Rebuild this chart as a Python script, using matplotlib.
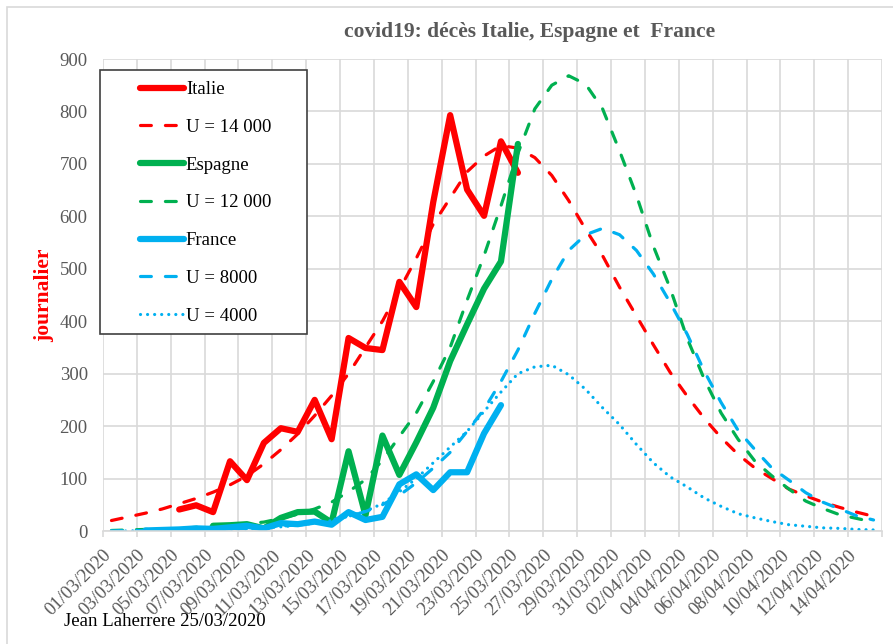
import numpy as np
import pandas as pd
import matplotlib
matplotlib.use('Agg')
import matplotlib.pyplot as plt
from matplotlib.patches import Rectangle
from matplotlib.transforms import ScaledTranslation

plt.rcParams['font.family'] = ['Liberation Serif', 'DejaVu Serif']

# categories: one per day, 01/03/2020 .. 15/04/2020
dates = pd.date_range('2020-03-01', '2020-04-15', freq='D')
date_labels = [d.strftime('%d/%m/%Y') for d in dates]

# observed daily deaths (first day index for each)
italie_start = 4
italie = [41, 49, 36, 133, 97, 168, 196, 189, 250, 175, 368, 349, 345, 475,
          427, 627, 793, 651, 601, 743, 683]
espagne_start = 6
espagne = [10, 11, 13, 5, 25, 36, 37, 16, 152, 30, 182, 107, 169, 235, 324,
           394, 462, 514, 738]
france_start = 2
france = [1, 2, 3, 5, 4, 7, 10, 5, 15, 13, 18, 12, 36, 21, 27, 89, 108, 78,
          112, 112, 186, 240]

# models, read day by day from 01/03
u14000 = [20, 27, 34, 42, 52, 62, 74, 88, 105, 128, 155, 185, 220, 258, 300,
          350, 400, 460, 520, 585, 635, 685, 715, 735, 730, 712, 678, 630,
          575, 525, 465, 410, 355, 302, 257, 215, 178, 146, 120, 100, 80, 67,
          55, 45, 36, 28]
u12000 = [1, 2, 3, 4, 5, 7, 9, 11, 14, 17, 24, 32, 42, 55, 75, 98, 135, 180,
          225, 285, 350, 440, 525, 620, 720, 805, 850, 868, 852, 805, 725,
          640, 543, 462, 367, 290, 225, 175, 133, 105, 80, 57, 43, 31, 24, 17]
u8000 = [0, 1, 1, 1, 2, 2, 3, 4, 5, 7, 9, 12, 16, 21, 28, 37, 50, 68, 92, 120,
         150, 190, 232, 285, 345, 415, 480, 535, 565, 577, 565, 535, 490,
         435, 375, 305, 245, 192, 155, 120, 97, 73, 55, 42, 29, 21]
u4000 = [0, 0, 1, 1, 1, 2, 2, 3, 4, 6, 8, 11, 15, 20, 28, 38, 52, 75, 100,
         130, 160, 190, 228, 265, 300, 313, 316, 298, 270, 235, 203, 165,
         130, 103, 84, 63, 47, 33, 25, 18, 12, 9, 6, 5, 3, 2]

RED = '#FF0000'
GREEN = '#00B050'
BLUE = '#00B0F0'
GREY = '#595959'
GRID = '#D9D9D9'

W, H = 893, 644
fig = plt.figure(figsize=(W / 100, H / 100), dpi=100)
ax = fig.add_axes([103 / W, 1 - 531 / H, (882 - 103) / W, (531 - 59) / H])

# outer chart border
fig.patches.append(Rectangle((6.5 / W, -0.1), 1.2, (H - 6.5) / H + 0.1,
                             transform=fig.transFigure, fill=False,
                             edgecolor=GRID, lw=1.2))

x = np.arange(len(dates)) + 0.5  # points sit between the tick marks


def xs(start, vals):
    return x[start:start + len(vals)]


thick = dict(lw=4.5, solid_capstyle='round', solid_joinstyle='round')
dash = dict(lw=2.3, dashes=(3.4, 4.4), dash_capstyle='round')

ax.plot(xs(italie_start, italie), italie, color=RED, label='Italie', **thick)
ax.plot(x, u14000, color=RED, label='U = 14 000', **dash)
ax.plot(xs(espagne_start, espagne), espagne, color=GREEN, label='Espagne', **thick)
ax.plot(x, u12000, color=GREEN, label='U = 12 000', **dash)
ax.plot(xs(france_start, france), france, color=BLUE, label='France', **thick)
ax.plot(x, u8000, color=BLUE, label='U = 8000', **dash)
ax.plot(x, u4000, color=BLUE, label='U = 4000', lw=2.3,
        linestyle=(0, (0.01, 2.2)), dash_capstyle='round')

ax.set_xlim(0, len(dates))
ax.set_ylim(0, 900)
ax.set_yticks(np.arange(0, 901, 100))
ticks = np.arange(0, len(dates), 2)
ax.set_xticks(np.arange(0, len(dates) + 1, 2))
ax.set_xticklabels([date_labels[i] for i in ticks] + [''])
ax.grid(True, color=GRID, lw=1.2)
ax.set_axisbelow(True)
for s in ['top', 'right', 'left']:
    ax.spines[s].set_visible(False)
ax.spines['bottom'].set_color(GRID)
ax.spines['bottom'].set_linewidth(1.2)
ax.tick_params(axis='y', length=0, pad=11, labelsize=13.5, labelcolor=GREY)
ax.tick_params(axis='x', length=4, width=1.2, color=GRID, pad=0,
               labelsize=13.5, labelcolor=GREY)
off = ScaledTranslation(0.06, -0.16, fig.dpi_scale_trans)
for lab in ax.get_xticklabels():
    lab.set_rotation(45)
    lab.set_ha('right')
    lab.set_va('center')
    lab.set_rotation_mode('anchor')
    lab.set_transform(lab.get_transform() + off)

fig.text(530 / W, 1 - 32 / H, 'covid19: décès Italie, Espagne et  France',
         ha='center', va='center', fontsize=15.5, fontweight='bold', color=GREY)
fig.text(44 / W, 1 - 295 / H, 'journalier', rotation=90, ha='center',
         va='center', fontsize=15.5, fontweight='bold', color=RED)
fig.text(64 / W, 1 - 622 / H, 'Jean Laherrere 25/03/2020', ha='left',
         va='center', fontsize=13.5, color='black')

# legend with its own frame
fig.patches.append(Rectangle((99.5 / W, 1 - 334 / H), (307 - 99.5) / W,
                             (334 - 70) / H, transform=fig.transFigure,
                             facecolor='white', edgecolor='#404040', lw=1.2,
                             zorder=5))
leg = fig.legend(loc='upper left', bbox_to_anchor=(140 / W, 1 - 81 / H),
                 frameon=False, fontsize=13.5, handlelength=2.35,
                 handletextpad=0.1, labelspacing=1.1, borderpad=0,
                 borderaxespad=0)
leg.set_zorder(6)

fig.savefig('out.png', dpi=100)
